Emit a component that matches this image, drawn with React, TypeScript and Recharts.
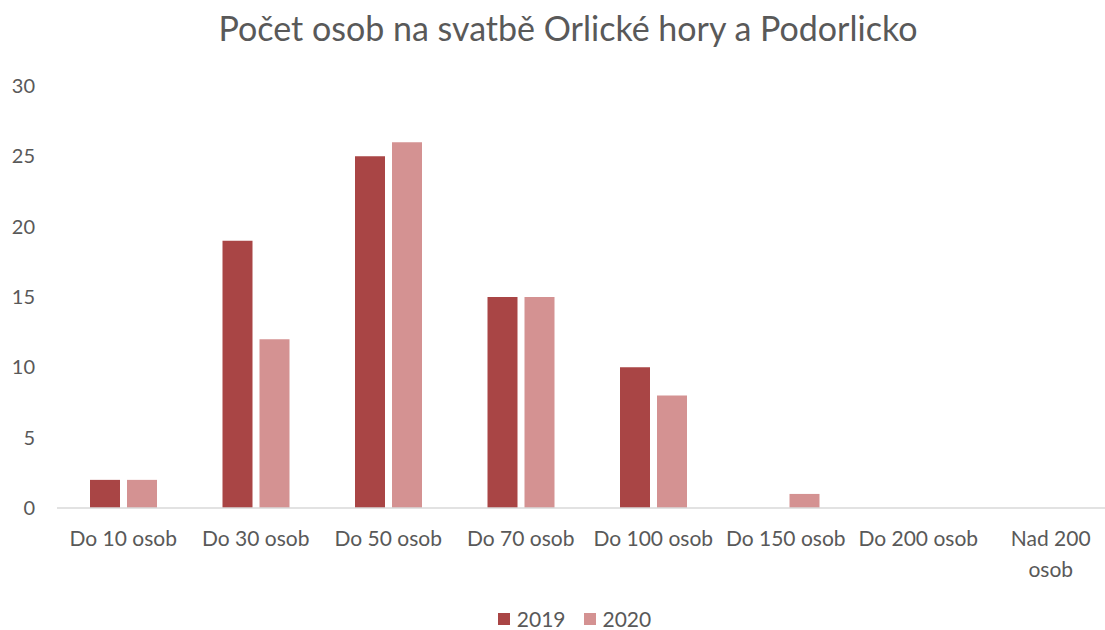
import { BarChart, Bar, XAxis, YAxis, Legend } from 'recharts'

const categories = ['Do 10 osob', 'Do 30 osob', 'Do 50 osob', 'Do 70 osob', 'Do 100 osob', 'Do 150 osob', 'Do 200 osob', 'Nad 200 osob']
const values2019 = [2, 19, 25, 15, 10, 0, 0, 0]
const values2020 = [2, 12, 26, 15, 8, 1, 0, 0]
const yTicks = [0, 5, 10, 15, 20, 25, 30]
// Excel wrapped this one label onto two lines
const tickLines: Record<string, string[]> = { 'Nad 200 osob': ['Nad 200', 'osob'] }

const data = categories.map((name, i) => ({ name, y2019: values2019[i], y2020: values2020[i] }))

const FONT = 'Lato, "Open Sans", sans-serif'
const GREY = '#595959'

function CategoryTick(props: any) {
    const { x, y, payload } = props
    const lines = tickLines[payload.value] || [payload.value]
    return (
        <text x={x} y={y} textAnchor="middle" fill={GREY} fontSize={21} fontFamily={FONT}>
            {lines.map((l, i) => (
                <tspan key={i} x={x} dy={i === 0 ? 30 : 31}>{l}</tspan>
            ))}
        </text>
    )
}

function LegendContent() {
    const items = [
        { label: '2019', color: '#a94545' },
        { label: '2020', color: '#d49292' },
    ]
    return (
        <div style={{ display: 'flex', justifyContent: 'center', paddingLeft: 32, paddingTop: 18, fontFamily: FONT, fontSize: 21, lineHeight: '21px', color: GREY }}>
            {items.map((it) => (
                <div key={it.label} style={{ display: 'flex', alignItems: 'center', margin: '0 9px' }}>
                    <span style={{ width: 12, height: 12, background: it.color, display: 'inline-block', marginRight: 7 }} />
                    <span>{it.label}</span>
                </div>
            ))}
        </div>
    )
}

export default function App() {
    return (
        <div style={{ position: 'absolute', left: 0, top: 0, width: 1105, height: 630, overflow: 'hidden', background: '#fff' }}>
            <div style={{ position: 'absolute', left: 0, top: 7, width: 1136, textAlign: 'center', fontFamily: FONT, fontSize: 34, color: GREY }}>
                Počet osob na svatbě Orlické hory a Podorlicko
            </div>
            <BarChart width={1117} height={630} data={data} margin={{ top: 86, right: 0, left: 0, bottom: 0 }} barSize={30} barGap={7}>
                <XAxis dataKey="name" height={82} tick={<CategoryTick />} tickLine={false} axisLine={{ stroke: '#d9d9d9', strokeWidth: 1.5 }} interval={0} />
                <YAxis width={57} domain={[0, 30]} ticks={yTicks} tickLine={false} axisLine={false} tickSize={0} tickMargin={22} tick={{ fill: GREY, fontSize: 20, fontFamily: FONT }} />
                <Legend verticalAlign="bottom" height={40} content={<LegendContent />} />
                <Bar dataKey="y2019" name="2019" fill="#a94545" isAnimationActive={false} />
                <Bar dataKey="y2020" name="2020" fill="#d49292" isAnimationActive={false} />
            </BarChart>
        </div>
    )
}
